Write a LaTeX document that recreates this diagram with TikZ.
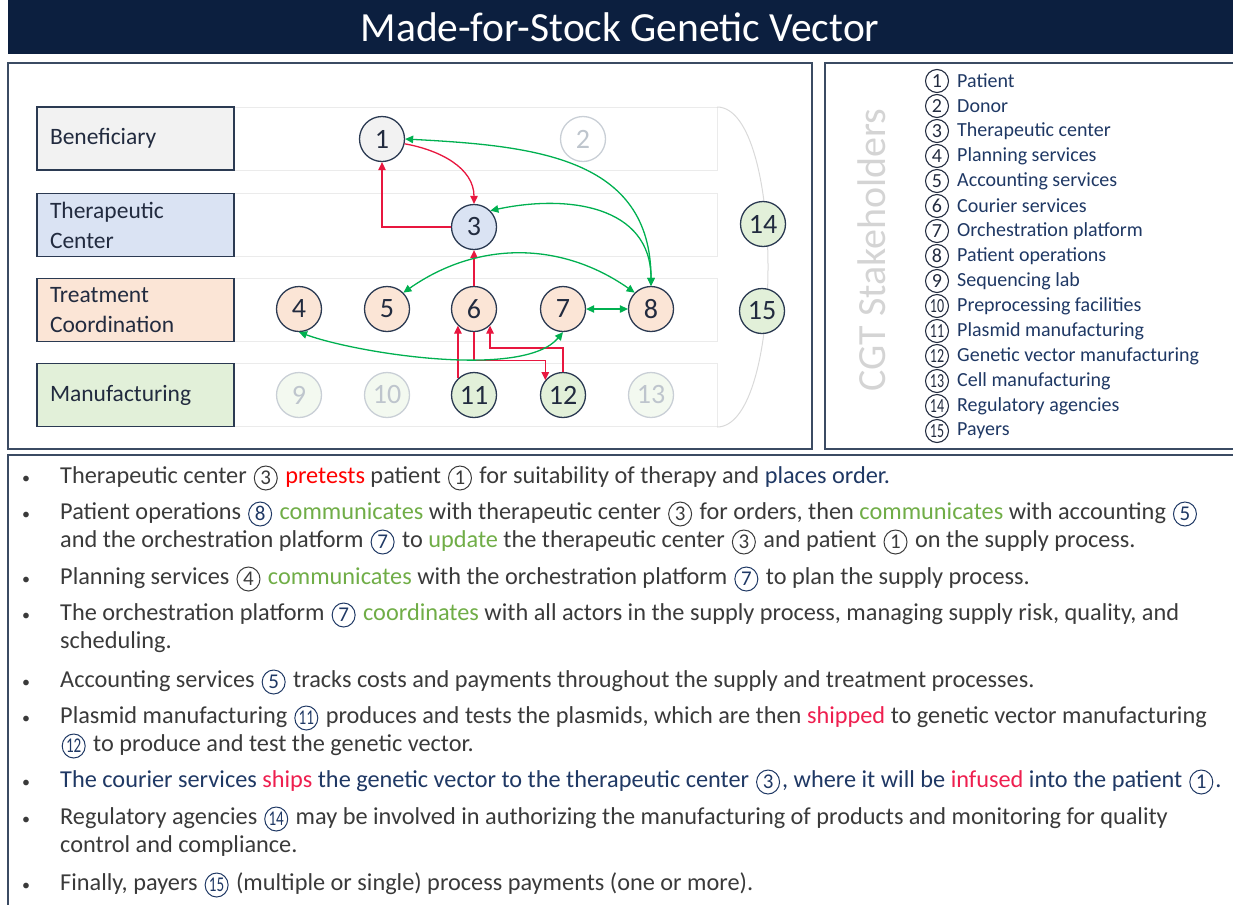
\documentclass[tikz,border=0pt]{standalone}
\usepackage{fontspec}
\setmainfont{Carlito}
\usetikzlibrary{arrows.meta}

\definecolor{titlebg}{HTML}{0C1F3F}
\definecolor{frameclr}{HTML}{3B4B63}
\definecolor{navy}{HTML}{1F3864}
\definecolor{bodytxt}{HTML}{3A3A3A}
\definecolor{lanegray}{HTML}{EBEBEB}
\definecolor{arcgray}{HTML}{D9D9D9}
\definecolor{benfill}{HTML}{F2F2F2}
\definecolor{tcfill}{HTML}{DAE3F3}
\definecolor{coordfill}{HTML}{FBE5D6}
\definecolor{mfgfill}{HTML}{E2F0D9}
\definecolor{ringclr}{HTML}{2B3A52}
\definecolor{numclr}{HTML}{222B3F}
\definecolor{paleline}{HTML}{C9CFD6}
\definecolor{paletxt}{HTML}{BEC5CD}
\definecolor{arrred}{HTML}{E8173F}
\definecolor{arrgreen}{HTML}{00B050}
\definecolor{wordred}{HTML}{FF0000}
\definecolor{wordship}{HTML}{EE1F4F}
\definecolor{wordgreen}{HTML}{70AD47}
\definecolor{stakegray}{HTML}{D4D4D4}

% small ringed number inside running text
\newcommand\cn[2][bodytxt]{\hspace{1.5pt}\ooalign{\tikz[baseline=-5pt]\draw[#1, line width=1pt] (0,0) ellipse (11.5pt and 12pt);\cr
  \hfil\raisebox{-1.5pt}{\textcolor{#1}{\fontsize{21}{21}\selectfont\ifnum#2>9 \scalebox{0.72}[1]{#2}\else#2\fi}}\hfil\cr}\hspace{2pt}}
\newcommand\cnn[1]{\cn[navy]{#1}}

\tikzset{
  lanebox/.style={draw=ringclr, line width=1.6pt, minimum width=197pt, minimum height=63pt,
    text width=171pt, inner xsep=13pt, align=left, text=numclr, font=\fontsize{23.5}{30}\selectfont},
  actor/.style={circle, draw=ringclr, line width=1.3pt, minimum size=45pt, inner sep=0pt,
    text=numclr, font=\fontsize{28}{28}\selectfont},
  idle/.style={actor, draw=paleline, text=paletxt},
  redarr/.style={draw=arrred, line width=1.3pt, -{Triangle[length=8pt,width=7.5pt]}},
  greenarr/.style={draw=arrgreen, line width=1.3pt,
    {Triangle[length=8pt,width=7.5pt]}-{Triangle[length=8pt,width=7.5pt]}},
  legnum/.style={circle, draw=numclr, line width=1.1pt, minimum size=23pt, inner sep=0pt,
    text=numclr, font=\fontsize{20}{20}\selectfont},
  legtxt/.style={anchor=west, inner sep=0pt, text=navy, font=\fontsize{20}{21}\selectfont},
  bodyline/.style={anchor=base west, inner sep=0pt, text=bodytxt, font=\fontsize{24.3}{28}\selectfont},
  frame/.style={draw=frameclr, line width=1.2pt}
}

\begin{document}
\begin{tikzpicture}[x=1pt,y=1pt]
\useasboundingbox (0,0) rectangle (1233,-905);

\fill[titlebg] (8,0) rectangle (1233,-54);
\node[text=white, font=\fontsize{41.5}{42}\selectfont] (title) at (620,-27) {Made-for-Stock Genetic Vector};

\draw[frame] (8,-63) rectangle (812,-449);
\draw[frame] (1233,-63) -| (825,-449) -- (1233,-449);
\draw[frame] (1233,-455) -| (8,-905);

\foreach \y in {107,193,278,363}
  \draw[lanegray, line width=1pt] (234,-\y) rectangle (717,-\y-63);
\draw[arcgray, line width=1pt] (717,-107) .. controls (785,-107) and (785,-427) .. (717,-427);

\node[lanebox, fill=benfill] (ben) at (135.5,-138.5) {Beneficiary};
\node[lanebox, fill=tcfill] (tc) at (135.5,-225) {Therapeutic\\Center};
\node[lanebox, fill=coordfill] (coord) at (135.5,-310) {Treatment\\Coordination};
\node[lanebox, fill=mfgfill] (mfg) at (135.5,-395) {Manufacturing};

\node[actor, fill=benfill] (n1) at (382,-139) {1};
\node[idle, fill=white] (n2) at (583,-139) {2};
\node[actor, fill=tcfill] (n3) at (474,-227) {3};
\foreach \i/\x in {4/299,5/387,6/474,7/563,8/651}
  \node[actor, fill=coordfill] (n\i) at (\x,-309) {\i};
\foreach \i/\x in {9/299,10/387,13/651}
  \node[idle, fill=mfgfill!40] (n\i) at (\x,-395) {\i};
\foreach \i/\x in {11/474,12/563}
  \node[actor, fill=mfgfill] (n\i) at (\x,-395) {\i};
\node[actor, fill=mfgfill] (n14) at (763,-224) {14};
\node[actor, fill=mfgfill] (n15) at (762,-311) {15};

\draw[redarr] (n1.-12) to[out=-10,in=90] (n3.north);
\draw[redarr] (n3.west) -| (n1.south);
\draw[redarr] (n6.north) -- (n3.south);
\draw[redarr] (n11.134) -- (n6.226);
\draw[redarr] (n6.south) -- ++(0,-28) -| (n12.140);
\draw[redarr] (n12.north) -- ++(0,24) -| (n6.-46);

\draw[greenarr] (n1.east) to[out=-3,in=90,looseness=1.15] (n8.north);
\draw[greenarr] (n3.45) to[out=12,in=90,looseness=1.15] (n8.north);
\draw[greenarr] (n5.45) to[out=35,in=145] (n8.135);
\draw[greenarr] (n7.east) -- (n8.west);
\draw[greenarr] (n4.south) to[out=-20,in=-130,looseness=0.6] (n7.south);

\node[rotate=90, text=stakegray, font=\fontsize{40}{40}\selectfont] (stake) at (872,-250) {CGT Stakeholders};
\foreach \t [count=\i] in {Patient,Donor,Therapeutic center,Planning services,Accounting services,
    Courier services,Orchestration platform,Patient operations,Sequencing lab,Preprocessing facilities,
    Plasmid manufacturing,Genetic vector manufacturing,Cell manufacturing,Regulatory agencies,Payers} {
  \node[legnum] (c\i) at (937,-56-25*\i) {\ifnum\i>9 \scalebox{0.7}[1]{\i}\else\i\fi};
  \node[legtxt] (leg\i) at (957,-56-25*\i) {\t};
}

\foreach \y [count=\i] in {483,519,584,620,687,723,787,824,890}
  \node[bodyline, font=\fontsize{16}{16}\selectfont] (dot\i) at (22,-\y) {\textbullet};

\node[bodyline] (t1) at (60,-483) {Therapeutic center \cn{3} \textcolor{wordred}{pretests} patient \cn{1} for suitability of therapy and \textcolor{navy}{places order.}};
\node[bodyline] (t2a) at (60,-519) {Patient operations \cnn{8} \textcolor{wordgreen}{communicates} with therapeutic center \cn{3} for orders, then \textcolor{wordgreen}{communicates} with accounting \cnn{5}};
\node[bodyline] (t2b) at (60,-547) {and the orchestration platform \cnn{7} to \textcolor{wordgreen}{update} the therapeutic center \cn{3} and patient \cn{1} on the supply process.};
\node[bodyline] (t3) at (60,-584) {Planning services \cn{4} \textcolor{wordgreen}{communicates} with the orchestration platform \cnn{7} to plan the supply process.};
\node[bodyline] (t4a) at (60,-620) {The orchestration platform \cnn{7} \textcolor{wordgreen}{coordinates} with all actors in the supply process, managing supply risk, quality, and};
\node[bodyline] (t4b) at (60,-648) {scheduling.};
\node[bodyline] (t5) at (60,-687) {Accounting services \cnn{5} tracks costs and payments throughout the supply and treatment processes.};
\node[bodyline] (t6a) at (60,-723) {Plasmid manufacturing \cnn{11} produces and tests the plasmids, which are then \textcolor{wordship}{shipped} to genetic vector manufacturing};
\node[bodyline] (t6b) at (60,-751) {\cnn{12} to produce and test the genetic vector.};
\node[bodyline, text=navy] (t7) at (60,-787) {The courier services \textcolor{wordship}{ships} the genetic vector to the therapeutic center \cnn{3}, where it will be \textcolor{wordship}{infused} into the patient \cnn{1}.};
\node[bodyline] (t8a) at (60,-824) {Regulatory agencies \cnn{14} may be involved in authorizing the manufacturing of products and monitoring for quality};
\node[bodyline] (t8b) at (60,-852) {control and compliance.};
\node[bodyline] (t9) at (60,-890) {Finally, payers \cnn{15} (multiple or single) process payments (one or more).};
\end{tikzpicture}
\end{document}
